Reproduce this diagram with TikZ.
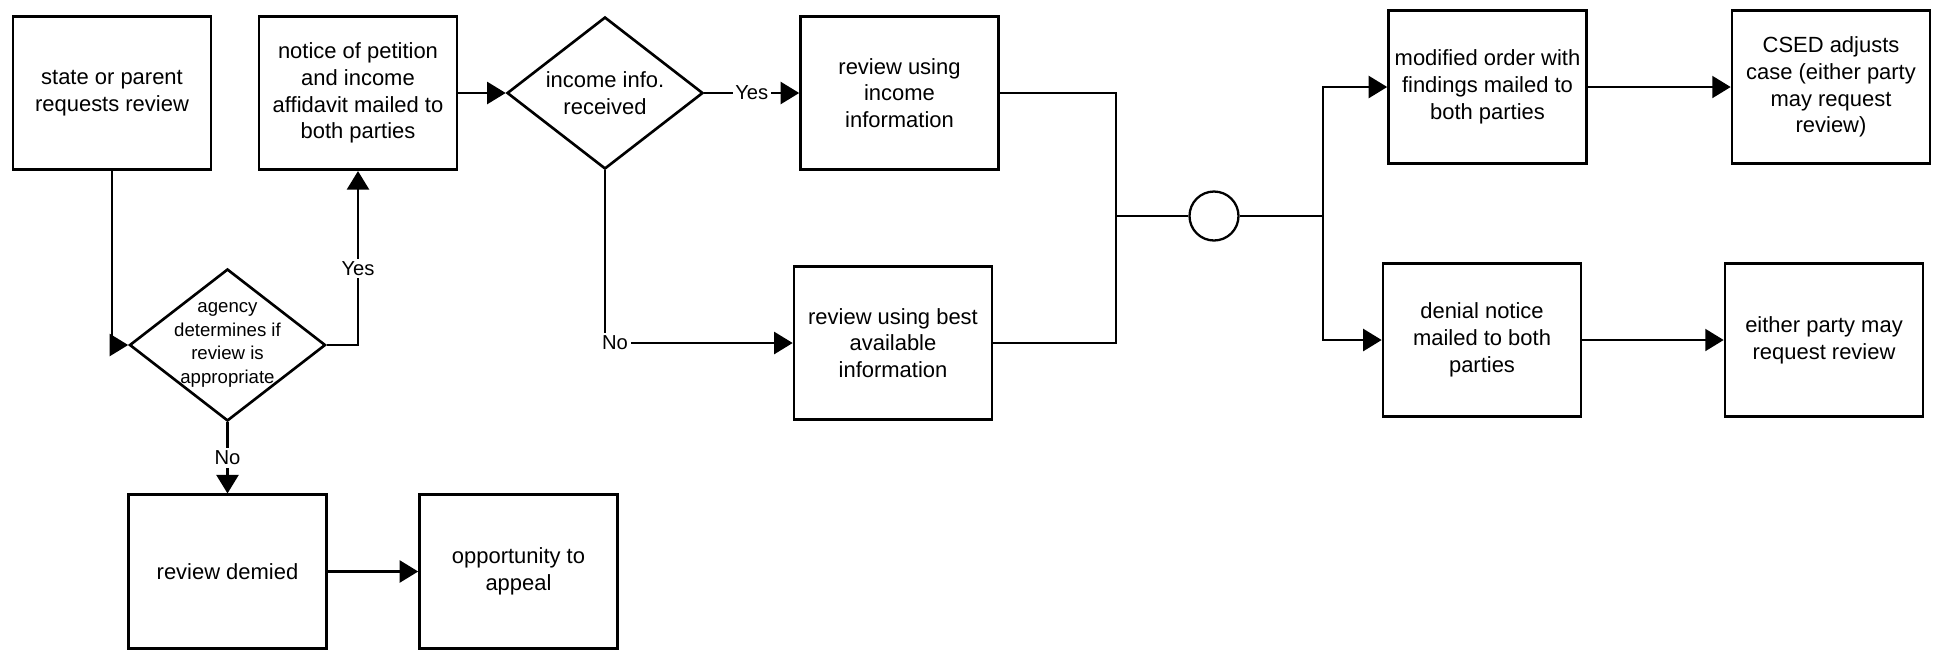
\documentclass[tikz,border=0pt]{standalone}
\usepackage{fontspec}
\setmainfont{Liberation Sans}
\usepackage{tikz}
\usetikzlibrary{shapes,arrows,arrows.meta,positioning,calc}
\newcommand{\blkfont}{\fontsize{12.5pt}{15.2pt}\selectfont}
\newcommand{\lblfont}{\fontsize{11.5pt}{13pt}\selectfont}
\newcommand{\dtxtfont}{\fontsize{10.6pt}{13.4pt}\selectfont}
\tikzset{
block/.style = {draw, fill=white, rectangle, line width=1.5pt, minimum width=3.96cm, minimum height=3.07cm, inner sep=0pt, align=center, font=\blkfont},
decision/.style = {draw, fill=white, diamond, aspect=1.29, line width=1.5pt, minimum width=3.92cm, minimum height=3.04cm, inner sep=0pt, align=center, font=\blkfont},
tmp/.style  = {coordinate},
sum/.style = {draw, fill=white, circle, line width=1.3pt, minimum size=0.98cm, inner sep=0pt},
lbl/.style = {fill=white, inner sep=1.5pt, font=\lblfont},
dtxt/.style = {align=center, font=\dtxtfont}
}

\begin{document}
\begin{tikzpicture}[node distance=4.92cm, line width=1.25pt, >={Triangle[length=10.5pt,width=12.5pt]}]
        \useasboundingbox (0,0) rectangle (38.68,-12.98);
        % request and review decision
        \node [block] (req) at (2.24,-1.86) {state or parent\\requests review};
        \node [block, right of=req] (notice) {notice of petition\\and income\\affidavit mailed to\\both parties};
        \node [decision] (agency) at (4.55,-6.90) {};
        \node [dtxt] (agency_t) at (agency) {agency\\determines if\\review is\\appropriate};
        \node [block, below of=agency, node distance=4.53cm] (denied) {review demied};
        \node [block, right of=denied, node distance=5.82cm] (appeal) {opportunity to\\appeal};
        % income info
        \node [decision, right of=notice, node distance=4.94cm] (inc_q) {income info.\\received};
        \node [block, right of=inc_q, node distance=5.89cm] (use_inc) {review using\\income\\information};
        \node [block, below of=use_inc, node distance=5cm, xshift=-0.13cm] (use_best) {review using best\\available\\information};
        \node [sum] (sum1) at (24.28,-4.32) {};
        \node [tmp, left of=sum1, node distance=1.96cm] (mrg) {};
        \node [tmp, right of=sum1, node distance=2.18cm] (spl) {};
        % outcomes
        \node [block] (modord) at (29.75,-1.74) {modified order with\\findings mailed to\\both parties};
        \node [block, right of=modord, node distance=6.87cm] (csed) {CSED adjusts\\case (either party\\may request\\review)};
        \node [block, below of=modord, node distance=5.06cm, xshift=-0.11cm] (denial) {denial notice\\mailed to both\\parties};
        \node [block, right of=denial, node distance=6.84cm] (either) {either party may\\request review};
        \draw [->] (req.south) |- (agency.west);
        \draw [->] (agency.east) -| node [lbl, pos=0.72] {Yes} (notice.south);
        \draw [->] (agency.south) -- node [lbl] {No} (denied.north);
        \draw [->] (denied) -- (appeal);
        \draw [->] (notice) -- (inc_q);
        \draw [->] (inc_q) -- node [lbl] {Yes} (use_inc);
        \draw [->] (inc_q.south) |- node [lbl, xshift=0.2cm] {No} (use_best.west);
        \draw (use_inc.east) -| (mrg);
        \draw (use_best.east) -| (mrg);
        \draw (mrg) -- (sum1) -- (spl);
        \draw [->] (spl) |- (modord.west);
        \draw [->] (spl) |- (denial.west);
        \draw [->] (modord) -- (csed);
        \draw [->] (denial) -- (either);
\end{tikzpicture}
\end{document}
